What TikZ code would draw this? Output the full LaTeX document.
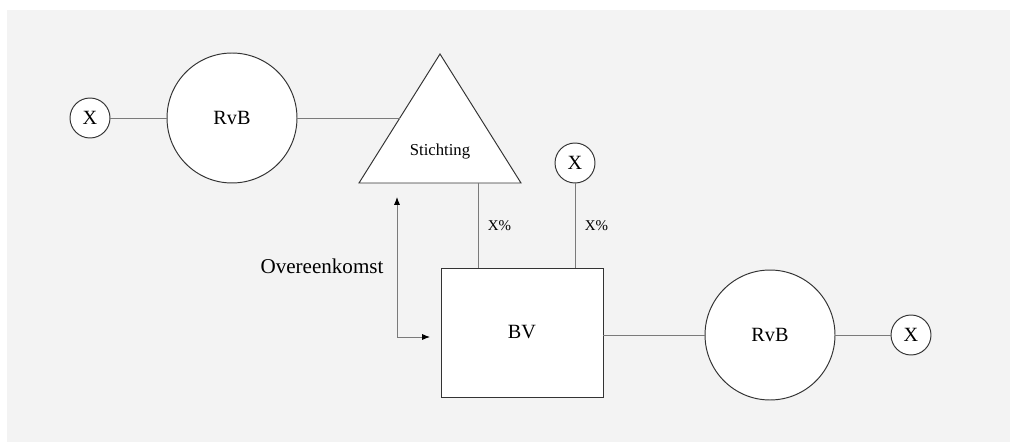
\documentclass[tikz,border=0pt]{standalone}
\usepackage{fontspec}
\setmainfont{Liberation Serif}
\usetikzlibrary{arrows.meta}
\definecolor{bggray}{HTML}{F3F3F3}
\definecolor{linegray}{HTML}{7A7A7A}
\definecolor{edgegray}{HTML}{333333}

\begin{document}
\begin{tikzpicture}[x=0.02cm, y=-0.02cm, >={Latex[length=4.5pt,width=3.5pt,color=black]},
  entity/.style={draw=edgegray, fill=white, line width=0.55pt, inner sep=0pt},
  bigcirc/.style={entity, circle, minimum size=2.6cm, font=\fontsize{11.5}{13}\selectfont},
  smallcirc/.style={entity, circle, minimum size=0.8cm, font=\fontsize{11.5}{13}\selectfont},
  link/.style={draw=linegray, line width=0.5pt},
  pct/.style={font=\fontsize{8.5}{10}\selectfont}]
  \useasboundingbox (0, 0) rectangle (1010, 442);
  \fill[bggray] (7, 10) rectangle (1010, 442);

  \coordinate (Ta) at (440, 54);
  \coordinate (Tr) at (521, 183);
  \coordinate (Tl) at (359, 183);
  \coordinate (Tedge) at (400, 118);
  \coordinate (Tbase) at (478, 183);

  \draw[entity] (Ta) -- (Tr) -- (Tl) -- cycle;
  \node[font=\fontsize{9.5}{11}\selectfont] (stichting) at (440, 152) {Stichting};

  \node[smallcirc] (xl) at (90, 118) {X};
  \node[bigcirc] (rvbl) at (232, 118) {RvB};
  \node[smallcirc] (xt) at (575, 163) {X};
  \node[entity, minimum width=3.24cm, minimum height=2.58cm,
        font=\fontsize{11.5}{13}\selectfont] (bv) at (522, 332.5) {BV};
  \node[bigcirc] (rvbr) at (770, 335) {RvB};
  \node[smallcirc] (xr) at (911, 335) {X};

  \draw[link] (xl) -- (rvbl);
  \draw[link] (rvbl) -- (Tedge);
  \draw[link] (Tbase) -- (Tbase |- bv.north) node[pct, midway, right, xshift=2pt] {X\%};
  \draw[link] (xt) -- (xt |- bv.north) node[pct, midway, right, xshift=2pt] {X\%};
  \draw[link] (bv.east |- rvbr) -- (rvbr);
  \draw[link] (rvbr) -- (xr);

  \coordinate (ovtop) at (397, 197);
  \coordinate (ovend) at (430, 337);
  \draw[link, <->] (ovtop) |- (ovend);
  \node[font=\fontsize{12}{14}\selectfont] (overeenkomst) at (322, 266) {Overeenkomst};
\end{tikzpicture}
\end{document}
